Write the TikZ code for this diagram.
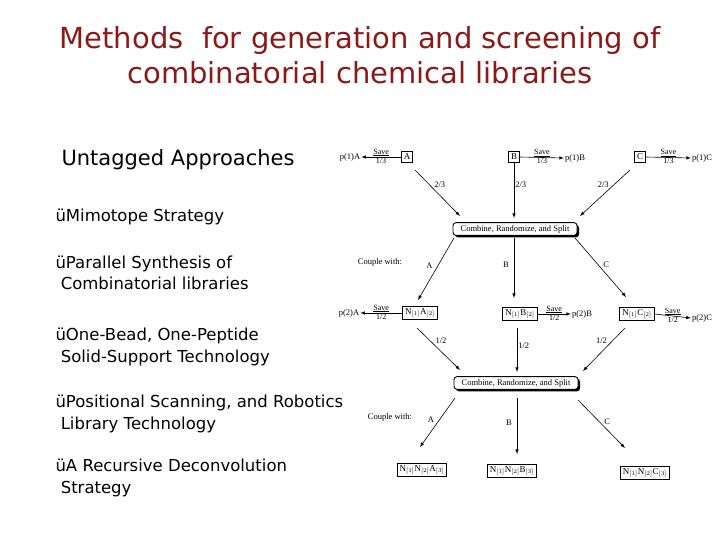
\documentclass[tikz,border=0pt]{standalone}
\usepackage{fontspec}
\setmainfont{Liberation Serif}
\newfontfamily\comic{DejaVu Sans}
\usetikzlibrary{shadows}
\definecolor{ttl}{RGB}{140,25,25}
\begin{document}
\begin{tikzpicture}[x=1pt,y=-1pt,
 bx/.style={draw,line width=0.9pt,inner sep=2.5pt,font=\fontsize{9}{10}\selectfont},
 crs/.style={draw,line width=0.9pt,rounded corners=3pt,fill=white,inner sep=2.5pt,font=\fontsize{8.5}{10}\selectfont,minimum width=124pt,drop shadow={shadow xshift=2pt,shadow yshift=-2pt,fill=black,opacity=1}},
 sm/.style={font=\fontsize{8.5}{10}\selectfont,inner sep=1pt},
 sv/.style={font=\fontsize{8}{8}\selectfont,inner sep=0.5pt,align=center},
 ar/.style={-latex,line width=0.6pt},
 lt/.style={font=\comic\fontsize{16.5}{21.5}\selectfont,anchor=west,align=left}]
\useasboundingbox (0,0) rectangle (720,540);
\node[text=ttl,font=\comic\fontsize{29}{35}\selectfont,align=center] (title) at (360,55) {Methods\ \ for generation and screening of\\combinatorial chemical libraries};
\node[font=\comic\fontsize{21}{24}\selectfont,anchor=west] (ua) at (58,160) {Untagged Approaches};
\node[lt] (i1) at (52,217) {üMimotope Strategy};
\node[lt] (i2) at (52,273) {üParallel Synthesis of\\\ Combinatorial libraries};
\node[lt] (i3) at (52,347) {üOne-Bead, One-Peptide\\\ Solid-Support Technology};
\node[lt] (i4) at (52,414) {üPositional Scanning, and Robotics\\\ Library Technology};
\node[lt] (i5) at (52,478) {üA Recursive Deconvolution\\\ Strategy};
% row 1
\node[bx] (A) at (407,157) {A};
\node[bx] (B) at (514,157) {B};
\node[bx] (C) at (640,157) {C};
\node[sm] (pa) at (350,157) {p(1)A};
\node[sm] (pb) at (575,158) {p(1)B};
\node[sm] (pc) at (702,158) {p(1)C};
\draw[ar] (A.west) -- node[sv,above]{\underline{Save}} node[sv,below]{1/3} (pa.east);
\draw[ar] (B.east) -- node[sv,above]{\underline{Save}} node[sv,below]{1/3} (pb.west);
\draw[ar] (C.east) -- node[sv,above]{\underline{Save}} node[sv,below]{1/3} (pc.west);
\node[crs] (K1) at (515,229) {Combine, Randomize, and Split};
\coordinate (e1a) at (460,216); \coordinate (e1b) at (514,218); \coordinate (e1c) at (580,216);
\draw[ar] (415,170) -- node[sm,pos=0.4,above right]{2/3} (e1a);
\draw[ar] (B.south) -- node[sm,pos=0.4,right]{2/3} (e1b);
\draw[ar] (630,170) -- node[sm,pos=0.4,above left]{2/3} (e1c);
\node[sm] (cw1) at (380,262) {Couple with:};
\node[bx] (A2) at (420,313) {N$_{[1]}$A$_{[2]}$};
\node[bx] (B2) at (520,314) {N$_{[1]}$B$_{[2]}$};
\node[bx] (C2) at (637,314) {N$_{[1]}$C$_{[2]}$};
\coordinate (e2a) at (418,300); \coordinate (e2b) at (514,298); \coordinate (e2c) at (626,297);
\draw[ar] (454,238) -- node[sm,pos=0.45,left=4pt]{A} (e2a);
\draw[ar] (514,238) -- node[sm,pos=0.45,left=4pt]{B} (e2b);
\draw[ar] (575,238) -- node[sm,pos=0.45,right=4pt]{C} (e2c);
\node[sm] (qa) at (349,313) {p(2)A};
\node[sm] (qb) at (582,314) {p(2)B};
\node[sm] (qc) at (702,318) {p(2)C};
\draw[ar] (A2.west) -- node[sv,above]{\underline{Save}} node[sv,below]{1/2} (qa.east);
\draw[ar] (B2.east) -- node[sv,above]{\underline{Save}} node[sv,below]{1/2} (qb.west);
\draw[ar] (C2.east) -- node[sv,above]{\underline{Save}} node[sv,below]{1/2} (qc.west);
\node[crs] (K2) at (516,383) {Combine, Randomize, and Split};
\coordinate (e3a) at (460,370); \coordinate (e3b) at (517,372); \coordinate (e3c) at (583,371);
\draw[ar] (417,328) -- node[sm,pos=0.4,above right]{1/2} (e3a);
\draw[ar] (517,328) -- node[sm,pos=0.4,right]{1/2} (e3b);
\draw[ar] (625,328) -- node[sm,pos=0.4,above left]{1/2} (e3c);
\node[sm] (cw2) at (390,417) {Couple with:};
\node[bx] (A3) at (422,470) {N$_{[1]}$N$_{[2]}$A$_{[3]}$};
\node[bx] (B3) at (512,471) {N$_{[1]}$N$_{[2]}$B$_{[3]}$};
\node[bx] (C3) at (645,473) {N$_{[1]}$N$_{[2]}$C$_{[3]}$};
\coordinate (e4a) at (420,447); \coordinate (e4b) at (517,454); \coordinate (e4c) at (625,448);
\draw[ar] (455,398) -- node[sm,pos=0.45,left=4pt]{A} (e4a);
\draw[ar] (517,398) -- node[sm,pos=0.45,left=4pt]{B} (e4b);
\draw[ar] (578,400) -- node[sm,pos=0.45,right=4pt]{C} (e4c);
\end{tikzpicture}
\end{document}
